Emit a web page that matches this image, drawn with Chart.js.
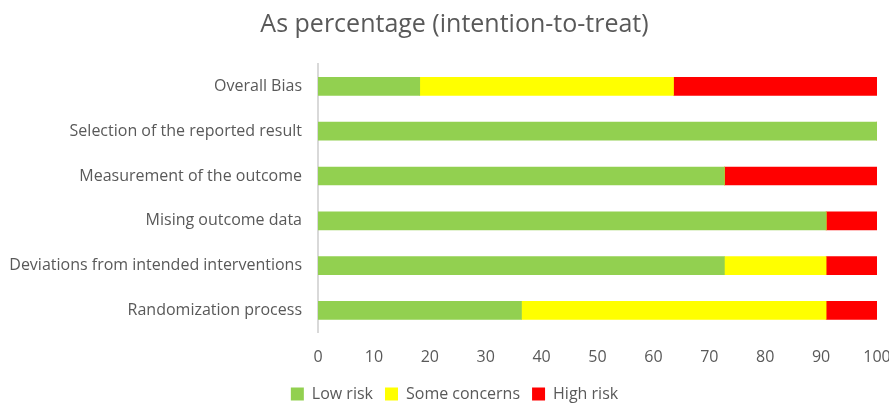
<!DOCTYPE html>
<html>
<head>
<meta charset="utf-8">
<script src="https://cdn.jsdelivr.net/npm/chart.js@4.4.1/dist/chart.umd.min.js"></script>
<style>
  html, body { margin: 0; padding: 0; background: #fff; overflow: hidden; }
  #wrap { width: 889px; height: 403px; }
</style>
</head>
<body>
<div id="wrap"><canvas id="riskChart" width="889" height="403"></canvas></div>
<script>
// domains, top to bottom
const domains = [
    'Overall Bias',
    'Selection of the reported result',
    'Measurement of the outcome',
    'Mising outcome data',
    'Deviations from intended interventions',
    'Randomization process'
];
// percentages (11 studies)
const lowRisk = [18.2, 100, 72.7, 90.9, 72.7, 36.4];
const someConcerns = [45.4, 0, 0, 0, 18.2, 54.5];
const highRisk = [36.4, 0, 27.3, 9.1, 9.1, 9.1];
const xTicks = [0, 10, 20, 30, 40, 50, 60, 70, 80, 90, 100];

const textColor = '#595959';
const fontFamily = '"Open Sans", sans-serif';

// title and legend sit a little right of the canvas centre in the original
const nudgeCentred = {
    id: 'nudgeCentred',
    afterLayout(chart) {
        chart.titleBlock.left += 20;
        chart.legend.left += 20;
    }
};

const ctx = document.getElementById('riskChart').getContext('2d');
const riskChart = new Chart(ctx, {
    type: 'bar',
    data: {
        labels: domains,
        datasets: [
            { label: 'Low risk', data: lowRisk, backgroundColor: '#92D050', barThickness: 18 },
            { label: 'Some concerns', data: someConcerns, backgroundColor: '#FFFF00', barThickness: 18 },
            { label: 'High risk', data: highRisk, backgroundColor: '#FF0000', barThickness: 18 }
        ]
    },
    options: {
        indexAxis: 'y',
        responsive: false,
        animation: false,
        layout: { padding: { top: 0, bottom: -9, left: 0, right: 0 } },
        scales: {
            x: {
                stacked: true,
                min: 0,
                max: 100,
                afterBuildTicks: (axis) => { axis.ticks = xTicks.map(v => ({ value: v })); },
                grid: { display: false },
                border: { display: false },
                ticks: { color: textColor, font: { family: fontFamily, size: 16 }, padding: 7 },
                afterFit: (axis) => { axis.paddingRight = 12; }
            },
            y: {
                stacked: true,
                grid: { display: false, drawTicks: false },
                border: { display: true, color: '#d9d9d9', width: 2 },
                ticks: { color: textColor, font: { family: fontFamily, size: 16 }, padding: 16 },
                afterFit: (axis) => { axis.width = 318; }
            }
        },
        plugins: {
            title: {
                display: true,
                text: 'As percentage (intention-to-treat)',
                color: textColor,
                font: { family: fontFamily, size: 25, weight: 'normal' },
                padding: { top: 10, bottom: 24 }
            },
            legend: {
                position: 'bottom',
                labels: {
                    color: textColor,
                    font: { family: fontFamily, size: 16 },
                    boxWidth: 13,
                    boxHeight: 13,
                    padding: 12
                }
            },
            tooltip: { enabled: false }
        }
    },
    plugins: [nudgeCentred]
});
</script>
</body>
</html>
